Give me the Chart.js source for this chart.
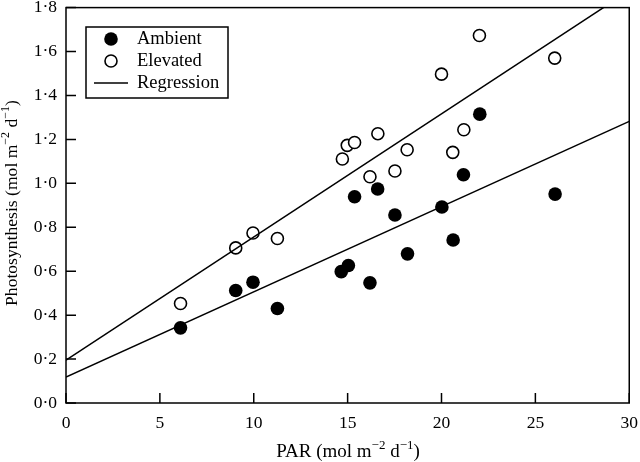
<!DOCTYPE html>
<html>
<head>
<meta charset="utf-8">
<script src="https://cdn.jsdelivr.net/npm/chart.js@4"></script>
<style>
  html, body { margin: 0; padding: 0; background: #fff; }
  #wrap { width: 640px; height: 462px; }
</style>
</head>
<body>
<div id="wrap"><canvas id="c"></canvas></div>
<script>
// values
const ambientPAR   = [6.1, 9.04, 9.96, 11.26, 14.66, 15.04, 15.37, 16.19, 16.6, 17.52, 18.19, 20.02, 20.62, 21.17, 22.04, 26.05];
const ambientPhoto = [0.342, 0.512, 0.55, 0.43, 0.598, 0.626, 0.939, 0.547, 0.974, 0.856, 0.679, 0.892, 0.742, 1.039, 1.315, 0.951];
const elevatedPAR   = [6.1, 9.04, 9.96, 11.26, 14.72, 14.98, 15.37, 16.19, 16.61, 17.52, 18.17, 20.0, 20.6, 21.19, 22.02, 26.03];
const elevatedPhoto = [0.453, 0.706, 0.774, 0.749, 1.111, 1.173, 1.186, 1.03, 1.226, 1.056, 1.153, 1.497, 1.141, 1.244, 1.673, 1.57];
const fitPAR = [0, 30];
const ambientFit = [0.118, 1.282];
const elevatedFit = [0.195, 1.877];
const xTicks = [0, 5, 10, 15, 20, 25, 30];

const FONT = '"Liberation Serif", "Times New Roman", serif';
const pts = (xs, ys) => xs.map((x, i) => ({ x, y: ys[i] }));

// draw a string with superscript parts, centred on (cx, cy)
function drawRich(ctx, parts, cx, cy, size) {
  const small = Math.round(size * 0.68);
  let w = 0;
  parts.forEach(p => {
    ctx.font = (p[1] ? small : size) + 'px ' + FONT;
    w += ctx.measureText(p[0]).width;
  });
  let x = cx - w / 2;
  ctx.textBaseline = 'middle';
  ctx.textAlign = 'left';
  parts.forEach(p => {
    ctx.font = (p[1] ? small : size) + 'px ' + FONT;
    ctx.fillText(p[0], x, p[1] ? cy - size * 0.35 : cy);
    x += ctx.measureText(p[0]).width;
  });
}

const framePlugin = {
  id: 'frame',
  afterDraw(chart) {
    const { ctx, chartArea: a, scales } = chart;
    ctx.save();
    ctx.strokeStyle = '#000';
    ctx.lineWidth = 1.5;
    ctx.strokeRect(a.left, a.top, a.right - a.left, a.bottom - a.top);
    // inward ticks
    ctx.beginPath();
    scales.x.ticks.forEach(t => {
      const px = scales.x.getPixelForValue(t.value);
      ctx.moveTo(px, a.bottom); ctx.lineTo(px, a.bottom - 10);
    });
    scales.y.ticks.forEach(t => {
      const py = scales.y.getPixelForValue(t.value);
      ctx.moveTo(a.left, py); ctx.lineTo(a.left + 10, py);
    });
    ctx.stroke();

    // axis titles
    ctx.fillStyle = '#000';
    const unit = [[' (mol m'], ['\u22122', true], [' d'], ['\u22121', true], [')']];
    drawRich(ctx, [['PAR']].concat(unit), 348, 452, 19);
    ctx.save();
    ctx.translate(12, 203);
    ctx.rotate(-Math.PI / 2);
    drawRich(ctx, [['Photosynthesis']].concat(unit), 0, 0, 17.6);
    ctx.restore();

    // legend
    const lx = 86, ly = 27;
    ctx.lineWidth = 1.5;
    ctx.strokeRect(lx, ly, 142, 71);
    ctx.font = '18.5px ' + FONT;
    ctx.textBaseline = 'middle';
    ctx.textAlign = 'left';
    ctx.beginPath(); ctx.arc(111, 39, 6.8, 0, Math.PI * 2); ctx.fill();
    ctx.fillText('Ambient', 137, 39);
    ctx.beginPath(); ctx.arc(111, 61, 6, 0, Math.PI * 2);
    ctx.fillStyle = '#fff'; ctx.fill(); ctx.lineWidth = 1.6; ctx.stroke(); ctx.fillStyle = '#000';
    ctx.lineWidth = 1.5;
    ctx.fillText('Elevated', 137, 61);
    ctx.beginPath(); ctx.moveTo(94, 83); ctx.lineTo(128, 83); ctx.stroke();
    ctx.fillText('Regression', 137, 83);
    ctx.restore();
  }
};

new Chart(document.getElementById('c'), {
  type: 'scatter',
  data: {
    datasets: [
      { label: 'Ambient fit', type: 'line', data: pts(fitPAR, ambientFit), borderColor: '#000', borderWidth: 1.5, pointRadius: 0, fill: false },
      { label: 'Elevated fit', type: 'line', data: pts(fitPAR, elevatedFit), borderColor: '#000', borderWidth: 1.5, pointRadius: 0, fill: false },
      { label: 'Ambient', data: pts(ambientPAR, ambientPhoto), backgroundColor: '#000', borderColor: '#000', pointRadius: 6.8, borderWidth: 0 },
      { label: 'Elevated', data: pts(elevatedPAR, elevatedPhoto), backgroundColor: '#fff', borderColor: '#000', pointRadius: 6, borderWidth: 1.6 }
    ]
  },
  options: {
    responsive: true,
    maintainAspectRatio: false,
    animation: false,
    layout: { padding: { top: 6, right: 0, left: 0, bottom: 0 } },
    plugins: { legend: { display: false }, tooltip: { enabled: false } },
    scales: {
      x: {
        type: 'linear', min: 0, max: 30,
        afterBuildTicks: s => { s.ticks = xTicks.map(v => ({ value: v })); },
        afterFit: s => { s.height = 59; },
        grid: { display: false },
        border: { display: false },
        ticks: { color: '#000', font: { family: FONT, size: 17.5 }, padding: 2, maxRotation: 0 }
      },
      y: {
        min: 0, max: 1.8,
        afterFit: s => { s.width = 66; s.paddingTop = 0; s.paddingBottom = 0; },
        grid: { display: false },
        border: { display: false },
        ticks: {
          stepSize: 0.2, color: '#000', padding: 1,
          font: { family: FONT, size: 17.5 },
          callback: v => v.toFixed(1).replace('.', '\u00b7')
        }
      }
    }
  },
  plugins: [framePlugin]
});
</script>
</body>
</html>
